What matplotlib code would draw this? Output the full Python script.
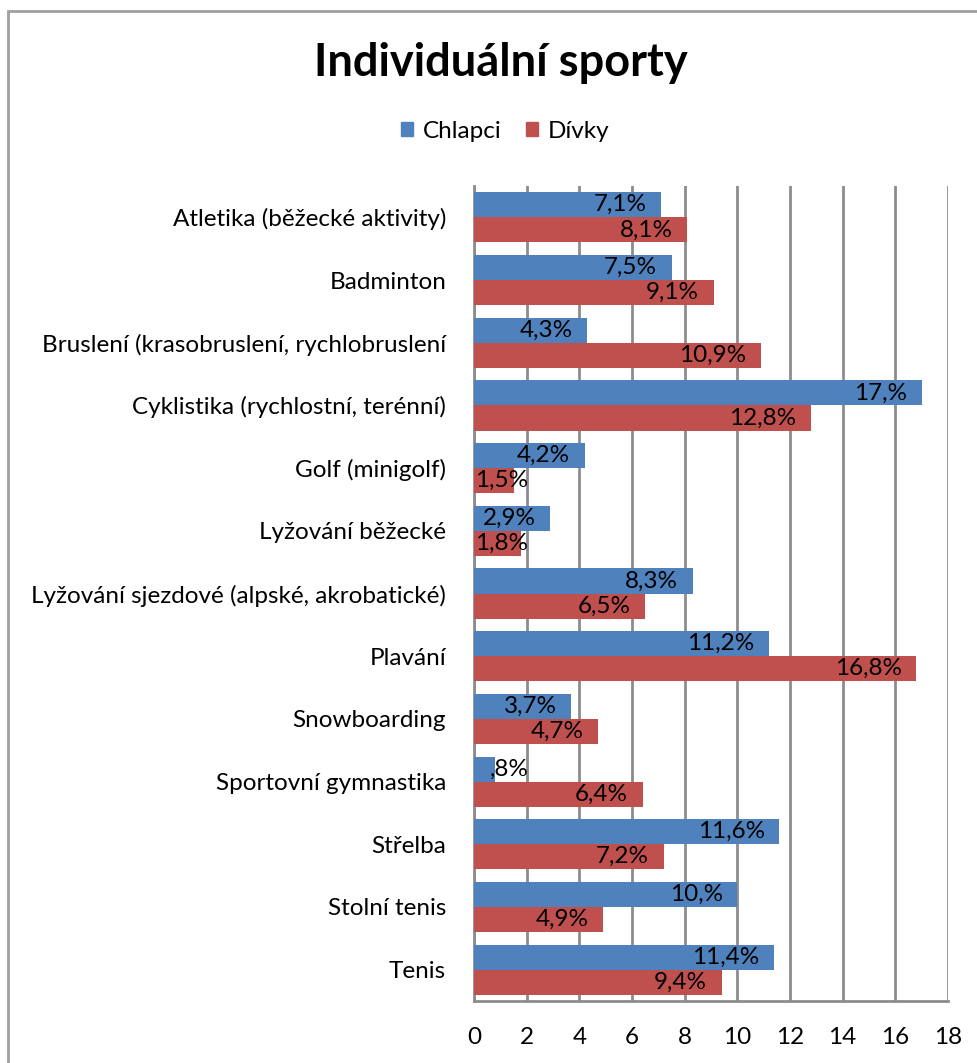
import numpy as np
import matplotlib
matplotlib.use("Agg")
import matplotlib.pyplot as plt
from matplotlib.patches import Rectangle, Patch

plt.rcParams['font.family'] = ['Lato', 'DejaVu Sans']

# data
categories = [
    "Atletika (běžecké aktivity)",
    "Badminton",
    "Bruslení (krasobruslení, rychlobruslení",
    "Cyklistika (rychlostní, terénní)",
    "Golf (minigolf)",
    "Lyžování běžecké",
    "Lyžování sjezdové (alpské, akrobatické)",
    "Plavání",
    "Snowboarding",
    "Sportovní gymnastika",
    "Střelba",
    "Stolní tenis",
    "Tenis",
]
chlapci = [7.1, 7.5, 4.3, 17.0, 4.2, 2.9, 8.3, 11.2, 3.7, 0.8, 11.6, 10.0, 11.4]
divky = [8.1, 9.1, 10.9, 12.8, 1.5, 1.8, 6.5, 16.8, 4.7, 6.4, 7.2, 4.9, 9.4]
chlapci_labels = ["7,1%", "7,5%", "4,3%", "17,%", "4,2%", "2,9%", "8,3%",
                  "11,2%", "3,7%", ",8%", "11,6%", "10,%", "11,4%"]
divky_labels = ["8,1%", "9,1%", "10,9%", "12,8%", "1,5%", "1,8%", "6,5%",
                "16,8%", "4,7%", "6,4%", "7,2%", "4,9%", "9,4%"]
xticks = [0, 2, 4, 6, 8, 10, 12, 14, 16, 18]

BLUE = "#4F81BD"
RED = "#C0504D"
GRID = "#8C8C8C"
FS = 17.5

fig = plt.figure(figsize=(9.77, 10.63), dpi=100)
ax = fig.add_axes([474 / 977, 62 / 1063, 474 / 977, 815 / 1063])

y = np.arange(len(categories))
h = 0.4
ax.barh(y - h / 2, chlapci, height=h, color=BLUE, zorder=3)
ax.barh(y + h / 2, divky, height=h, color=RED, zorder=3)


def put_labels(vals, labels, offs):
    # labels sit at the inner end of the bar; short bars get them from the left
    for yi, v, lab in zip(y + offs, vals, labels):
        if v < 1:
            ax.text(v - 0.2, yi, lab, ha="left", va="center", fontsize=FS, zorder=4)
        elif v < 2.7:
            ax.text(0.05, yi, lab, ha="left", va="center", fontsize=FS, zorder=4)
        else:
            ax.text(v - 0.55, yi, lab, ha="right", va="center", fontsize=FS, zorder=4)


put_labels(chlapci, chlapci_labels, -h / 2)
put_labels(divky, divky_labels, h / 2)

ax.set_xlim(0, 18)
ax.set_ylim(len(categories) - 0.5, -0.5)
ax.set_xticks(xticks)
ax.set_xticklabels([str(t) for t in xticks], fontsize=FS)
ax.set_yticks(y)
ax.set_yticklabels(categories, fontsize=FS)
ax.tick_params(axis="x", length=0, pad=19)
ax.tick_params(axis="y", length=0, pad=20)
ax.grid(axis="x", color=GRID, linewidth=2, zorder=0)
for s in ["top", "right"]:
    ax.spines[s].set_visible(False)
for s in ["left", "bottom"]:
    ax.spines[s].set_color(GRID)
    ax.spines[s].set_linewidth(2)

fig.text(501 / 977, 1 - 63 / 1063, "Individuální sporty", ha="center", va="center",
         fontsize=32.5, fontweight="bold")

handles = [Patch(color=BLUE, label="Chlapci"), Patch(color=RED, label="Dívky")]
fig.legend(handles=handles, loc="center", bbox_to_anchor=(505 / 977, 1 - 131 / 1063),
           ncol=2, frameon=False, fontsize=FS, handlelength=0.5, handleheight=0.5,
           handletextpad=0.4, columnspacing=1.0)

# chart area border
fig.patches.append(Rectangle((8 / 977, -0.1), 1.2, 1.1 - 11 / 1063, fill=False,
                             edgecolor="#A0A0A0", linewidth=2,
                             transform=fig.transFigure))

fig.savefig("out.png", dpi=100)
